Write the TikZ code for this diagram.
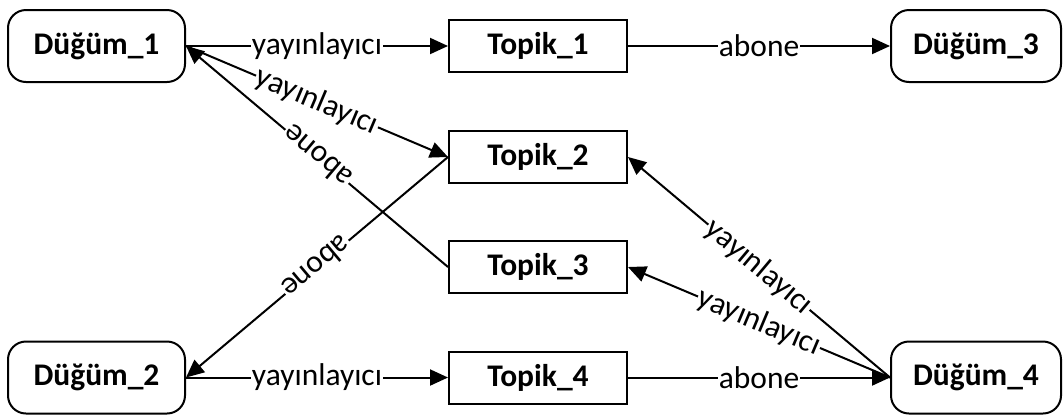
\documentclass[tikz,border=0pt]{standalone}
\usepackage{fontspec}
\setmainfont{Carlito}
\usetikzlibrary{arrows.meta}
\begin{document}
\begin{tikzpicture}[x=0.5pt,y=-0.5pt,line width=1pt,font=\fontsize{15.75}{19}\selectfont,
  dugum/.style={draw,rounded corners=9pt,minimum width=88.5pt,minimum height=36pt,inner sep=0pt,font=\fontsize{15.75}{19}\selectfont\bfseries},
  topik/.style={draw,minimum width=89pt,minimum height=26pt,inner sep=0pt,font=\fontsize{15.75}{19}\selectfont\bfseries},
  etiket/.style={midway,fill=white,inner sep=0.5pt},
  ok/.style={-{Triangle[length=9pt,width=8pt]}}]
\useasboundingbox (0,0) rectangle (1063,414);
\node[dugum] (dugum1) at (96.5,46) {Düğüm\_1};
\node[dugum] (dugum2) at (96.5,377.5) {Düğüm\_2};
\node[dugum,minimum width=85pt] (dugum3) at (976,46) {Düğüm\_3};
\node[dugum,minimum width=85pt] (dugum4) at (976,377.5) {Düğüm\_4};
\node[topik] (topik1) at (538,46) {Topik\_1};
\node[topik] (topik2) at (538,157) {Topik\_2};
\node[topik] (topik3) at (538,267) {Topik\_3};
\node[topik] (topik4) at (538,377.5) {Topik\_4};
\draw[ok] (dugum1.east) -- node[etiket] {yayınlayıcı} (topik1.west);
\draw[ok] (dugum1.east) -- node[etiket,sloped] {yayınlayıcı} (topik2.west);
\draw[ok] (topik3.west) -- node[etiket,sloped,allow upside down] {abone} (dugum1.east);
\draw[ok] (topik2.west) -- node[etiket,sloped,allow upside down] {abone} (dugum2.east);
\draw[ok] (dugum2.east) -- node[etiket] {yayınlayıcı} (topik4.west);
\draw[ok] (topik1.east) -- node[etiket] {abone} (dugum3.west);
\draw[ok] (topik4.east) -- node[etiket] {abone} (dugum4.west);
\draw[ok] (dugum4.west) -- node[etiket,sloped] {yayınlayıcı} (topik2.east);
\draw[ok] (dugum4.west) -- node[etiket,sloped] {yayınlayıcı} (topik3.east);
\end{tikzpicture}
\end{document}
